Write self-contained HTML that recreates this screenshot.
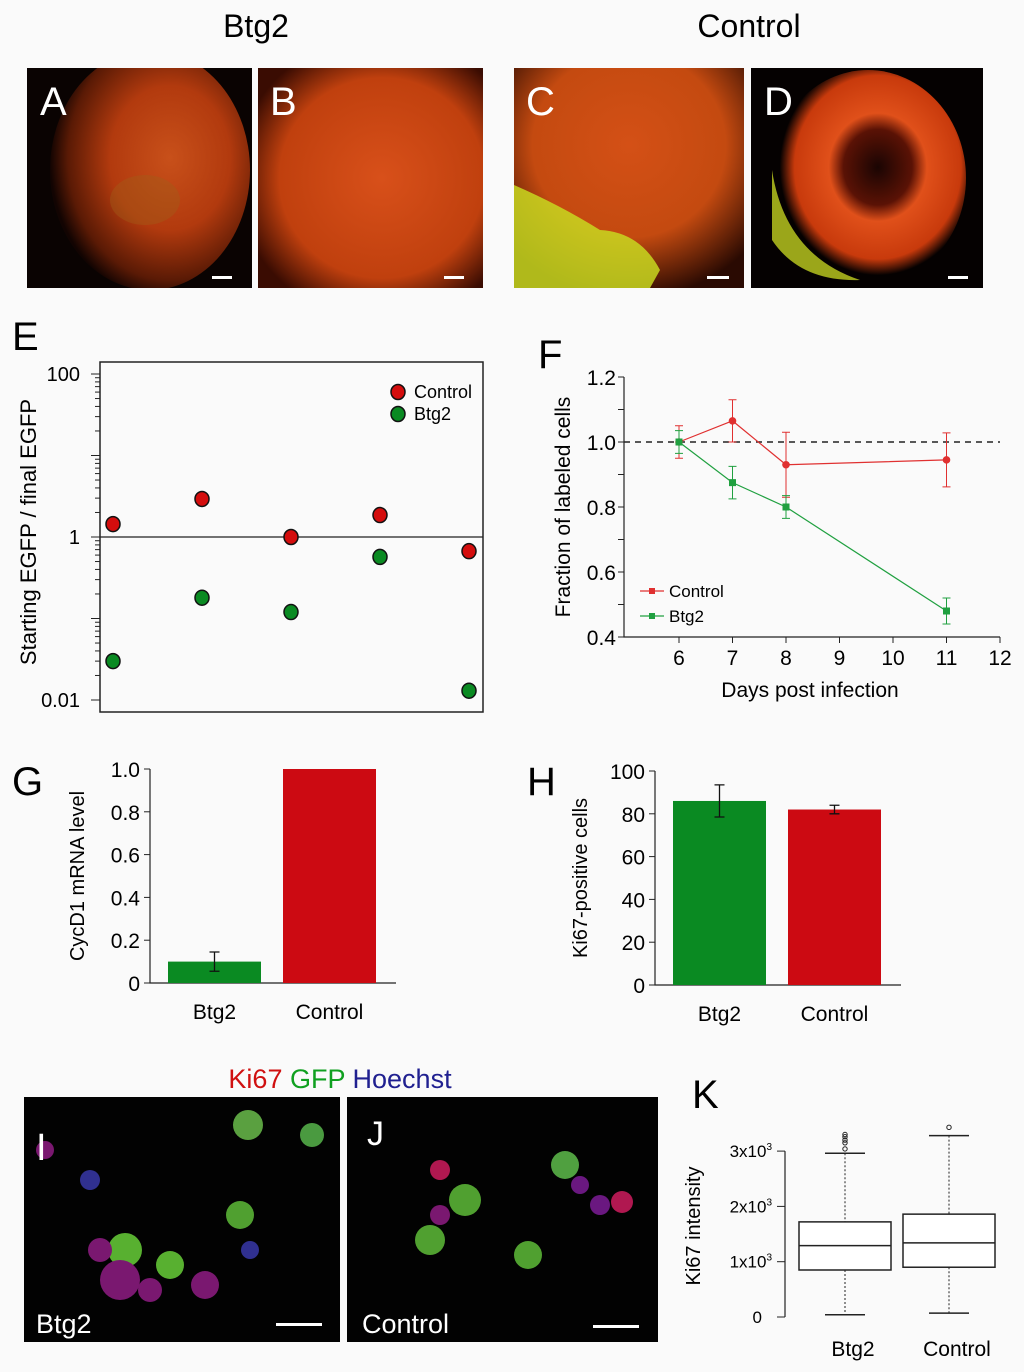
<!DOCTYPE html>
<html><head><meta charset="utf-8"><style>
body{margin:0;background:#fafafa;}
svg{display:block;font-family:"Liberation Sans",sans-serif;}
</style></head><body>
<svg id="fig" width="1024" height="1372" viewBox="0 0 1024 1372">
<defs>
<clipPath id="cA"><rect x="27" y="68" width="225" height="220"/></clipPath>
<clipPath id="cB"><rect x="258" y="68" width="225" height="220"/></clipPath>
<clipPath id="cC"><rect x="514" y="68" width="230" height="220"/></clipPath>
<clipPath id="cD"><rect x="751" y="68" width="232" height="220"/></clipPath>
<radialGradient id="gA" cx="0.6" cy="0.45" r="0.6"><stop offset="0" stop-color="#c8501a"/><stop offset="0.5" stop-color="#b23a0e"/><stop offset="0.85" stop-color="#5a1a05"/><stop offset="1" stop-color="#120402"/></radialGradient>
<radialGradient id="gB" cx="0.55" cy="0.5" r="0.65"><stop offset="0" stop-color="#d8501a"/><stop offset="0.7" stop-color="#c0400e"/><stop offset="1" stop-color="#3a0c02"/></radialGradient>
<radialGradient id="gC" cx="0.5" cy="0.35" r="0.7"><stop offset="0" stop-color="#d45016"/><stop offset="0.6" stop-color="#c44a10"/><stop offset="1" stop-color="#2a0a02"/></radialGradient>
<radialGradient id="gD" cx="0.55" cy="0.45" r="0.5"><stop offset="0" stop-color="#1a0503"/><stop offset="0.35" stop-color="#5a1205"/><stop offset="0.5" stop-color="#e0501a"/><stop offset="0.85" stop-color="#c83a0c"/><stop offset="1" stop-color="#050101"/></radialGradient>
</defs>
<text x="256" y="37" font-size="32" text-anchor="middle">Btg2</text>
<text x="749" y="37" font-size="32" text-anchor="middle">Control</text>
<g><g clip-path="url(#cA)"><rect x="27" y="68" width="225" height="220" fill="#0a0302"/><ellipse cx="150" cy="170" rx="100" ry="120" fill="url(#gA)"/><ellipse cx="145" cy="200" rx="35" ry="25" fill="#a06018" opacity="0.4"/></g><rect x="212" y="276" width="20" height="3" fill="#fff"/><text x="40" y="115" font-size="40" fill="#fff">A</text></g>
<g><g clip-path="url(#cB)"><rect x="258" y="68" width="225" height="220" fill="url(#gB)"/></g><rect x="444" y="276" width="20" height="3" fill="#fff"/><text x="270" y="115" font-size="40" fill="#fff">B</text></g>
<g><g clip-path="url(#cC)"><rect x="514" y="68" width="230" height="220" fill="url(#gC)"/><path d="M514 185 Q560 205 600 230 Q640 232 660 270 L650 288 L514 288Z" fill="#c8d820" opacity="0.85"/></g><rect x="707" y="276" width="22" height="3" fill="#fff"/><text x="526" y="115" font-size="40" fill="#fff">C</text></g>
<g><g clip-path="url(#cD)"><rect x="751" y="68" width="232" height="220" fill="#050101"/><ellipse cx="868" cy="178" rx="98" ry="108" fill="url(#gD)"/><path d="M772 170 Q785 255 860 280 Q800 282 772 240Z" fill="#c0d020" opacity="0.8"/></g><rect x="948" y="276" width="20" height="3" fill="#fff"/><text x="764" y="115" font-size="40" fill="#fff">D</text></g>

<g id="panelE"><text x="12" y="350" font-size="40">E</text></g>
<g id="panelF"><text x="538" y="368" font-size="40">F</text></g>
<g id="panelG"><text x="12" y="795" font-size="40">G</text></g>
<g id="panelH"><text x="527" y="795" font-size="40">H</text></g>

<text x="340" y="1088" font-size="27" text-anchor="middle"><tspan fill="#d01010">Ki67</tspan> <tspan fill="#10a020">GFP</tspan> <tspan fill="#202090">Hoechst</tspan></text>
<g><rect x="24" y="1097" width="316" height="245" fill="#020202"/>
<circle cx="248" cy="1125" r="15" fill="#5aa040"/><circle cx="312" cy="1135" r="12" fill="#4a9a40"/><circle cx="125" cy="1250" r="17" fill="#58b030"/><circle cx="170" cy="1265" r="14" fill="#58b030"/><circle cx="240" cy="1215" r="14" fill="#50a030"/><circle cx="120" cy="1280" r="20" fill="#7a1870"/><circle cx="100" cy="1250" r="12" fill="#7a1870"/><circle cx="90" cy="1180" r="10" fill="#303090"/><circle cx="45" cy="1150" r="9" fill="#7a1870"/><circle cx="250" cy="1250" r="9" fill="#303090"/><circle cx="150" cy="1290" r="12" fill="#7a1870"/><circle cx="205" cy="1285" r="14" fill="#7a1870"/>
<rect x="276" y="1323" width="46" height="3" fill="#fff"/><text x="36" y="1160" font-size="38" fill="#fff">I</text><text x="36" y="1333" font-size="27" fill="#fff">Btg2</text></g>
<g><rect x="347" y="1097" width="311" height="245" fill="#020202"/>
<circle cx="565" cy="1165" r="14" fill="#50a040"/><circle cx="465" cy="1200" r="16" fill="#50a030"/><circle cx="430" cy="1240" r="15" fill="#50a030"/><circle cx="528" cy="1255" r="14" fill="#50a030"/><circle cx="440" cy="1170" r="10" fill="#b01850"/><circle cx="622" cy="1202" r="11" fill="#b01850"/><circle cx="600" cy="1205" r="10" fill="#6a1880"/><circle cx="580" cy="1185" r="9" fill="#6a1880"/><circle cx="440" cy="1215" r="10" fill="#7a1870"/>
<rect x="593" y="1325" width="46" height="3" fill="#fff"/><text x="367" y="1145" font-size="34" fill="#fff">J</text><text x="362" y="1333" font-size="27" fill="#fff">Control</text></g>
<g id="panelK"><text x="692" y="1108" font-size="40">K</text></g>
</svg>
<script>
// ---------- Panel E data ----------
const eControl = [1.44, 2.93, 1.0, 1.86, 0.67];
const eBtg2 = [0.030, 0.18, 0.12, 0.57, 0.013];
const eXpos = [0, 1, 2, 3, 4];
// ---------- Panel F data ----------
const fDays = [6, 7, 8, 11];
const fControl = [1.0, 1.065, 0.93, 0.945];
const fControlErr = [0.05, 0.065, 0.1, 0.083];
const fBtg2 = [1.0, 0.875, 0.80, 0.48];
const fBtg2Err = [0.035, 0.05, 0.035, 0.04];
const fXTicks = [6, 7, 8, 9, 10, 11, 12];
const fYTicks = [0.4, 0.6, 0.8, 1.0, 1.2];
// ---------- Panel G data ----------
const gCats = ["Btg2", "Control"];
const gVals = [0.1, 1.0];
const gErr = [0.045, 0];
const gTicks = [0, 0.2, 0.4, 0.6, 0.8, 1.0];
// ---------- Panel H data ----------
const hCats = ["Btg2", "Control"];
const hVals = [86, 82];
const hErr = [7.5, 2];
const hTicks = [0, 20, 40, 60, 80, 100];
// ---------- Panel K data ----------
const kCats = ["Btg2", "Control"];
const kMin = [40, 70];
const kQ1 = [850, 900];
const kMed = [1290, 1340];
const kQ3 = [1720, 1860];
const kMax = [2960, 3280];
const kOutliers = [[3040, 3150, 3200, 3260, 3300], [3430]];

const NS = "http://www.w3.org/2000/svg";
function mk(parent, tag, attrs, text) {
  const el = document.createElementNS(NS, tag);
  for (const k in attrs) el.setAttribute(k, attrs[k]);
  if (text !== undefined) el.textContent = text;
  parent.appendChild(el);
  return el;
}
const colR = "#d40d0d", colG = "#0a8a22";

// ===== Panel E =====
(function(){
  const g = document.getElementById('panelE');
  const yE = v => 537 - Math.log10(v) * 81.5;
  const xE = i => 113 + i * 89;
  let el = mk(g, 'rect', {x:100, y:362, width:383, height:350, fill:'none', stroke:'#222', 'stroke-width':1.5});
   
  el = mk(g, 'line', {x1:100, x2:483, y1:yE(1), y2:yE(1), stroke:'#222', 'stroke-width':1.2});
   
  for (let d = -2; d < 2; d++) for (let m = 1; m <= 10; m++) {
    const v = m * Math.pow(10, d); const y = yE(v);
    const t = mk(g, 'line', {x1:100, x2: m===1||m===10 ? 91 : 95, y1:y, y2:y, stroke:'#222', 'stroke-width':1});
     
  }
  [[100,'100'],[1,'1'],[0.01,'0.01']].forEach(([v,l]) => {
    const t = mk(g, 'text', {x:80, y:yE(v)+7, 'font-size':20, 'text-anchor':'end'}, l);
     
  });
  el = mk(g, 'text', {x:0, y:0, 'font-size':22, 'text-anchor':'middle', transform:'translate(36,532) rotate(-90)'}, 'Starting EGFP / final EGFP');
   
  eXpos.forEach((p, i) => {
    let c = mk(g, 'ellipse', {cx:xE(p), cy:yE(eControl[i]), rx:7, ry:7.5, fill:colR, stroke:'#111', 'stroke-width':1.5});
     
    c = mk(g, 'ellipse', {cx:xE(p), cy:yE(eBtg2[i]), rx:7, ry:7.5, fill:colG, stroke:'#111', 'stroke-width':1.5});
     
  });
  [[colR,'Control',392],[colG,'Btg2',414]].forEach(([c,l,y]) => {
    const gg = mk(g, 'g', {});
     
    mk(gg, 'ellipse', {cx:398, cy:y, rx:7, ry:7.5, fill:c, stroke:'#111', 'stroke-width':1.5});
    mk(gg, 'text', {x:414, y:y+6, 'font-size':18}, l);
  });
})();

// ===== Panel F =====
(function(){
  const g = document.getElementById('panelF');
  const xF = d => 679 + (d - 6) * 53.5;
  const yF = v => 637 - (v - 0.4) / 0.2 * 65;
  let el = mk(g, 'path', {d:'M624 377 V637 H1000', fill:'none', stroke:'#222', 'stroke-width':1.2});
   
  fXTicks.forEach(d => {
    let t = mk(g, 'line', {x1:xF(d), x2:xF(d), y1:637, y2:643, stroke:'#222'});
     
    t = mk(g, 'text', {x:xF(d), y:665, 'font-size':21, 'text-anchor':'middle'}, String(d));
     
  });
  for (let v = 0.4; v <= 1.2001; v += 0.1) {
    const t = mk(g, 'line', {x1:624, x2:618, y1:yF(v), y2:yF(v), stroke:'#222'});
     
  }
  fYTicks.forEach(v => {
    const t = mk(g, 'text', {x:616, y:yF(v)+8, 'font-size':21, 'text-anchor':'end'}, v.toFixed(1));
     
  });
  el = mk(g, 'line', {x1:624, x2:1000, y1:yF(1), y2:yF(1), stroke:'#222', 'stroke-width':1.5, 'stroke-dasharray':'6,5'});
   
  el = mk(g, 'text', {x:0, y:0, 'font-size':21, 'text-anchor':'middle', transform:'translate(570,507) rotate(-90)'}, 'Fraction of labeled cells');
   
  el = mk(g, 'text', {x:810, y:697, 'font-size':21, 'text-anchor':'middle'}, 'Days post infection');
   
  function series(vals, errs, col, name, square) {
    const pts = fDays.map((d,i) => xF(d)+','+yF(vals[i])).join(' ');
    let l = mk(g, 'polyline', {points:pts, fill:'none', stroke:col, 'stroke-width':1.2});
     
    fDays.forEach((d,i) => {
      const x = xF(d), y1 = yF(vals[i]+errs[i]), y2 = yF(vals[i]-errs[i]);
      const e = mk(g, 'path', {d:`M${x} ${y1}V${y2}M${x-4} ${y1}H${x+4}M${x-4} ${y2}H${x+4}`, stroke:col, fill:'none', 'stroke-width':1});
       
      const p = square ? mk(g, 'rect', {x:x-3.5, y:yF(vals[i])-3.5, width:7, height:7, fill:col})
                       : mk(g, 'circle', {cx:x, cy:yF(vals[i]), r:3.8, fill:col});
       
    });
  }
  series(fControl, fControlErr, '#e03030', 'control', false);
  series(fBtg2, fBtg2Err, '#20a040', 'btg2', true);
  [['#e03030','Control',591],['#20a040','Btg2',616]].forEach(([c,l,y]) => {
    const gg = mk(g, 'g', {});
     
    mk(gg, 'line', {x1:640, x2:664, y1:y, y2:y, stroke:c, 'stroke-width':1.2});
    mk(gg, 'rect', {x:649, y:y-3, width:6, height:6, fill:c});
    mk(gg, 'text', {x:669, y:y+6, 'font-size':17}, l);
  });
})();

// ===== Bar panels G & H =====
function barPanel(id, cats, vals, errs, ticks, vmax, ax, y0, ytop, xend, barX, title, titleX, dec) {
  const g = document.getElementById(id);
  const yS = v => y0 - v / vmax * (y0 - ytop);
  let el = mk(g, 'path', {d:`M${ax} ${ytop}V${y0}H${xend}`, fill:'none', stroke:'#222', 'stroke-width':1.2});
   
  ticks.forEach(v => {
    let t = mk(g, 'line', {x1:ax-6, x2:ax, y1:yS(v), y2:yS(v), stroke:'#222'});
     
    t = mk(g, 'text', {x:ax-10, y:yS(v)+8, 'font-size':21, 'text-anchor':'end'}, dec ? v.toFixed(1).replace(/^0\.0$/,'0') : String(v));
     
  });
  const cols = [colG, '#cc0a12'];
  cats.forEach((c, i) => {
    const x = barX[i];
    let b = mk(g, 'rect', {x:x, y:yS(vals[i]), width:93, height:y0 - yS(vals[i]), fill:cols[i]});
     
    if (errs[i] > 0) {
      const cx = x + 46.5, a = yS(vals[i]+errs[i]), bb = yS(vals[i]-errs[i]);
      const e = mk(g, 'path', {d:`M${cx} ${a}V${bb}M${cx-5} ${a}H${cx+5}M${cx-5} ${bb}H${cx+5}`, stroke:'#111', fill:'none', 'stroke-width':1.3});
       
    }
    const t = mk(g, 'text', {x:x+46.5, y:y0+36, 'font-size':21, 'text-anchor':'middle'}, c);
     
  });
  el = mk(g, 'text', {x:0, y:0, 'font-size':20, 'text-anchor':'middle', transform:`translate(${titleX},${(y0+ytop)/2}) rotate(-90)`}, title);
   
}
barPanel('panelG', gCats, gVals, gErr, gTicks, 1.0, 150, 983, 769, 396, [168, 283], 'CycD1 mRNA level', 84, true);
barPanel('panelH', hCats, hVals, hErr, hTicks, 100, 655, 985, 771, 901, [673, 788], 'Ki67-positive cells', 587, false);

// ===== Panel K =====
(function(){
  const g = document.getElementById('panelK');
  const yK = v => 1317 - v / 1000 * 55.3;
  let el = mk(g, 'line', {x1:785, x2:785, y1:yK(0), y2:yK(3000), stroke:'#222', 'stroke-width':1.2});
   
  [0,1000,2000,3000].forEach(v => {
    let t = mk(g, 'line', {x1:777, x2:785, y1:yK(v), y2:yK(v), stroke:'#222'});
     
    t = mk(g, 'text', {x:v===0?762:772, y:yK(v)+6, 'font-size':17, 'text-anchor':'end'});
     
    if (v === 0) t.textContent = '0';
    else { t.textContent = (v/1000) + 'x10'; mk(t, 'tspan', {'font-size':10, dy:-7}, '3'); }
  });
  el = mk(g, 'text', {x:0, y:0, 'font-size':20, 'text-anchor':'middle', transform:'translate(700,1226) rotate(-90)'}, 'Ki67 intensity');
   
  const bx = [799, 903];
  kCats.forEach((c, i) => {
    const x = bx[i], cx = x + 46;
    const bg = mk(g, 'g', {});
     
    mk(bg, 'path', {d:`M${cx} ${yK(kMax[i])}V${yK(kQ3[i])}M${cx} ${yK(kQ1[i])}V${yK(kMin[i])}`, stroke:'#222', 'stroke-dasharray':'2,2', fill:'none'});
    mk(bg, 'path', {d:`M${cx-20} ${yK(kMax[i])}H${cx+20}M${cx-20} ${yK(kMin[i])}H${cx+20}`, stroke:'#222', 'stroke-width':1.5});
    mk(bg, 'rect', {x:x, y:yK(kQ3[i]), width:92, height:yK(kQ1[i])-yK(kQ3[i]), fill:'#fff', stroke:'#222', 'stroke-width':1.5});
    mk(bg, 'line', {x1:x, x2:x+92, y1:yK(kMed[i]), y2:yK(kMed[i]), stroke:'#222', 'stroke-width':1.5});
    kOutliers[i].forEach(o => {
      const oc = mk(g, 'circle', {cx:cx, cy:yK(o), r:2.2, fill:'none', stroke:'#222'});
       
    });
    const t = mk(g, 'text', {x:cx+8, y:1356, 'font-size':21, 'text-anchor':'middle'}, c);
     
  });
})();
</script>
</body></html>
